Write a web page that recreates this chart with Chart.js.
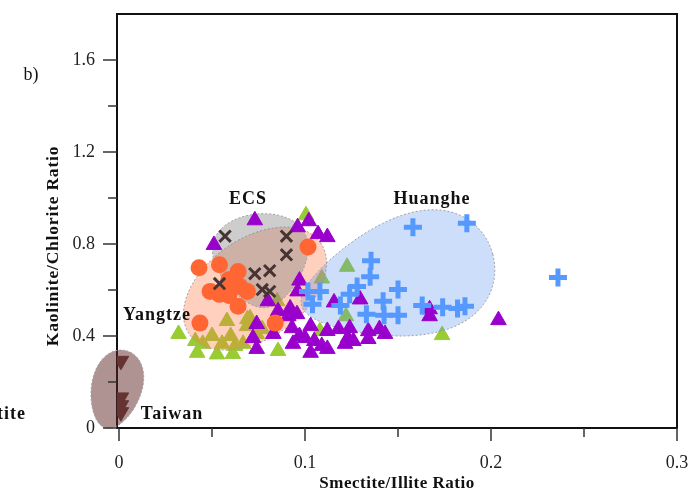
<!DOCTYPE html>
<html>
<head>
<meta charset="utf-8">
<script src="https://cdn.jsdelivr.net/npm/chart.js@4.4.1/dist/chart.umd.min.js"></script>
<style>
  html, body { margin: 0; padding: 0; background: #fff; }
  #wrap { width: 699px; height: 493px; }
</style>
</head>
<body>
<div id="wrap"><canvas id="chart" width="699" height="493"></canvas></div>
<script>
// Smectite/Illite vs Kaolinite/Chlorite
const xTicks = [0, 0.1, 0.2, 0.3];
const xMinor = [0.05, 0.15, 0.25];
const yTicks = [0, 0.4, 0.8, 1.2, 1.6];
const yMinor = [0.2, 0.6, 1.0, 1.4];

const greenX = [0.1005, 0.1226, 0.109, 0.122, 0.1737, 0.032, 0.058, 0.041, 0.050, 0.045, 0.060, 0.0554, 0.042, 0.0527, 0.0612, 0.0624, 0.0688, 0.069, 0.074, 0.0667, 0.077, 0.0855, 0.108, 0.085, 0.0704];
const greenY = [0.925, 0.701, 0.650, 0.486, 0.404, 0.409, 0.465, 0.378, 0.400, 0.366, 0.400, 0.366, 0.327, 0.320, 0.322, 0.357, 0.443, 0.473, 0.409, 0.366, 0.430, 0.335, 0.421, 0.551, 0.477];

const purpleX = [0.073, 0.051, 0.102, 0.096, 0.107, 0.112, 0.097, 0.096, 0.1156, 0.1296, 0.167, 0.167, 0.204, 0.092, 0.0855, 0.091, 0.0957, 0.074, 0.093, 0.083, 0.072, 0.074, 0.097, 0.103, 0.112, 0.118, 0.124, 0.0935, 0.100, 0.105, 0.109, 0.112, 0.103, 0.1215, 0.123, 0.126, 0.134, 0.134, 0.140, 0.143, 0.080];
const purpleY = [0.903, 0.796, 0.899, 0.873, 0.843, 0.830, 0.641, 0.594, 0.546, 0.559, 0.516, 0.486, 0.469, 0.520, 0.508, 0.486, 0.495, 0.452, 0.434, 0.409, 0.391, 0.344, 0.400, 0.443, 0.422, 0.430, 0.434, 0.366, 0.391, 0.378, 0.357, 0.344, 0.327, 0.366, 0.391, 0.378, 0.421, 0.387, 0.430, 0.409, 0.551];

const huangheX = [0.158, 0.187, 0.1355, 0.135, 0.128, 0.124, 0.150, 0.119, 0.142, 0.133, 0.1425, 0.150, 0.163, 0.174, 0.182, 0.186, 0.1016, 0.108, 0.104, 0.236];
const huangheY = [0.873, 0.890, 0.727, 0.658, 0.615, 0.581, 0.602, 0.533, 0.551, 0.495, 0.490, 0.490, 0.533, 0.525, 0.520, 0.529, 0.594, 0.594, 0.538, 0.654];

const yangtzeX = [0.043, 0.054, 0.064, 0.059, 0.065, 0.049, 0.054, 0.059, 0.069, 0.064, 0.0435, 0.084, 0.1016];
const yangtzeY = [0.697, 0.710, 0.680, 0.645, 0.615, 0.594, 0.581, 0.576, 0.594, 0.529, 0.456, 0.456, 0.787];

const ecsX = [0.057, 0.090, 0.090, 0.073, 0.081, 0.054, 0.077, 0.081];
const ecsY = [0.834, 0.834, 0.753, 0.671, 0.684, 0.628, 0.602, 0.594];

const taiwanX = [0.001, 0.001, 0.001, 0.001];
const taiwanY = [0.292, 0.133, 0.099, 0.069];

const pts = (xs, ys) => xs.map((x, i) => ({ x: x, y: ys[i] }));

// shaded source fields (centre in data units, size in px)
const fields = [
    { cx: 0.0731, cy: 0.606, a: 80, b: 50, rot: -35, egg: 0, fill: 'rgba(255,121,69,0.35)' },
    { cx: 0.0765, cy: 0.727, a: 47, b: 46, rot: -95, egg: 0.3, fill: 'rgba(130,130,130,0.4)' },
    { cx: 0.1495, cy: 0.645, a: 99, b: 58, rot: -15, egg: 0.35, fill: 'rgba(88,145,238,0.3)' },
    { cx: -0.0016, cy: 0.168, a: 40, b: 25, rot: -75, egg: 0.15, fill: 'rgba(95,40,40,0.5)' }
];

const labels = [
    { text: 'ECS', x: 0.0694, y: 0.9935 },
    { text: 'Huanghe', x: 0.1683, y: 0.9935 },
    { text: 'Yangtze', x: 0.0204, y: 0.490 },
    { text: 'Taiwan', x: 0.0285, y: 0.060 },
    { text: 'tite', x: -0.0578, y: 0.060 }
];

const serif = '"Liberation Serif", "Times New Roman", serif';

function drawFields(chart) {
    const ctx = chart.ctx;
    const sx = chart.scales.x, sy = chart.scales.y;
    fields.forEach(f => {
        const px = sx.getPixelForValue(f.cx), py = sy.getPixelForValue(f.cy);
        const r = f.rot * Math.PI / 180;
        ctx.save();
        ctx.beginPath();
        for (let i = 0; i <= 120; i++) {
            const t = i / 120 * Math.PI * 2;
            const u = f.a * Math.cos(t);
            const v = f.b * Math.sin(t) * (1 + f.egg * Math.cos(t));
            const X = px + u * Math.cos(r) - v * Math.sin(r);
            const Y = py + u * Math.sin(r) + v * Math.cos(r);
            if (i === 0) ctx.moveTo(X, Y); else ctx.lineTo(X, Y);
        }
        ctx.closePath();
        ctx.fillStyle = f.fill;
        ctx.fill();
        ctx.setLineDash([2, 2]);
        ctx.strokeStyle = '#a0a0a0';
        ctx.lineWidth = 1;
        ctx.stroke();
        ctx.restore();
    });
}

const fieldPlugin = {
    id: 'fields',
    afterDatasetDraw(chart, args) {
        // fields sit over every group except the ECS crosses
        if (args.index === 5) drawFields(chart);
    },
    afterDraw(chart) {
        const ctx = chart.ctx;
        const a = chart.chartArea;
        const sx = chart.scales.x, sy = chart.scales.y;
        ctx.save();
        // frame top + right
        ctx.strokeStyle = '#111';
        ctx.lineWidth = 2;
        ctx.beginPath();
        ctx.moveTo(a.left, a.top);
        ctx.lineTo(a.right, a.top);
        ctx.lineTo(a.right, a.bottom);
        ctx.stroke();

        // tick marks
        ctx.strokeStyle = '#333';
        ctx.lineWidth = 1.5;
        ctx.beginPath();
        yTicks.forEach(v => { const p = Math.round(sy.getPixelForValue(v)); ctx.moveTo(a.left - 14, p); ctx.lineTo(a.left, p); });
        yMinor.forEach(v => { const p = Math.round(sy.getPixelForValue(v)); ctx.moveTo(a.left - 9, p); ctx.lineTo(a.left, p); });
        xTicks.forEach(v => { const p = Math.round(sx.getPixelForValue(v)); ctx.moveTo(p, a.bottom); ctx.lineTo(p, a.bottom + 13); });
        xMinor.forEach(v => { const p = Math.round(sx.getPixelForValue(v)); ctx.moveTo(p, a.bottom); ctx.lineTo(p, a.bottom + 9); });
        ctx.stroke();

        // field names
        ctx.fillStyle = '#111';
        ctx.font = 'bold 18px ' + serif;
        ctx.letterSpacing = '1px';
        ctx.textAlign = 'center';
        ctx.textBaseline = 'middle';
        labels.forEach(l => ctx.fillText(l.text, sx.getPixelForValue(l.x), sy.getPixelForValue(l.y)));

        // axis titles
        ctx.font = 'bold 17px ' + serif;
        ctx.letterSpacing = '0.5px';
        ctx.fillText('Smectite/Illite Ratio', (a.left + a.right) / 2, 484);
        ctx.save();
        ctx.translate(53, 246);
        ctx.rotate(-Math.PI / 2);
        ctx.font = 'bold 17.5px ' + serif;
        ctx.letterSpacing = '0.8px';
        ctx.fillText('Kaolinite/Chlorite Ratio', 0, 0);
        ctx.restore();

        // panel letter
        ctx.letterSpacing = '0px';
        ctx.font = '18px ' + serif;
        ctx.fillText('b)', 31, 75);
        ctx.restore();
    }
};

const tickFmt = v => v === 0 ? '0' : v.toFixed(1);

new Chart(document.getElementById('chart'), {
    type: 'scatter',
    data: {
        datasets: [
            { label: 'ECS', data: pts(ecsX, ecsY), pointStyle: 'crossRot', pointRadius: 8, borderColor: '#463434', borderWidth: 3, order: 1 },
            { label: 'Taiwan', data: pts(taiwanX, taiwanY), pointStyle: 'triangle', rotation: 180, pointRadius: 9, backgroundColor: '#663333', borderColor: '#663333', borderWidth: 1, order: 2 },
            { label: 'Yangtze', data: pts(yangtzeX, yangtzeY), pointStyle: 'circle', pointRadius: 8.5, backgroundColor: '#ff6633', borderWidth: 0, order: 3 },
            { label: 'Huanghe', data: pts(huangheX, huangheY), pointStyle: 'cross', pointRadius: 9, borderColor: '#5599ff', borderWidth: 5, order: 4 },
            { label: 'Shelf (purple)', data: pts(purpleX, purpleY), pointStyle: 'triangle', pointRadius: 9, backgroundColor: '#9900cc', borderColor: '#9900cc', borderWidth: 1, order: 5 },
            { label: 'Shelf (green)', data: pts(greenX, greenY), pointStyle: 'triangle', pointRadius: 9, backgroundColor: '#99cc33', borderColor: '#99cc33', borderWidth: 1, order: 6 }
        ]
    },
    options: {
        responsive: false,
        animation: false,
        events: [],
        layout: { padding: { left: 0, right: 22, top: 9, bottom: 0 } },
        plugins: { legend: { display: false }, tooltip: { enabled: false } },
        scales: {
            x: {
                type: 'linear', min: -0.0011, max: 0.3,
                grid: { display: false, drawTicks: false },
                border: { display: true, color: '#111', width: 2 },
                ticks: { color: '#222', padding: 24, font: { family: serif, size: 18 }, callback: tickFmt },
                afterBuildTicks: s => { s.ticks = xTicks.map(v => ({ value: v })); },
                afterFit: s => { s.height = 65; s.paddingLeft = 0; s.paddingRight = 0; }
            },
            y: {
                type: 'linear', min: 0, max: 1.8,
                grid: { display: false, drawTicks: false },
                border: { display: true, color: '#111', width: 2 },
                ticks: { color: '#222', padding: 22, font: { family: serif, size: 18 }, callback: tickFmt },
                afterBuildTicks: s => { s.ticks = yTicks.map(v => ({ value: v })); },
                afterFit: s => { s.width = 117; s.paddingTop = 0; s.paddingBottom = 0; }
            }
        }
    },
    plugins: [fieldPlugin]
});
</script>
</body>
</html>
